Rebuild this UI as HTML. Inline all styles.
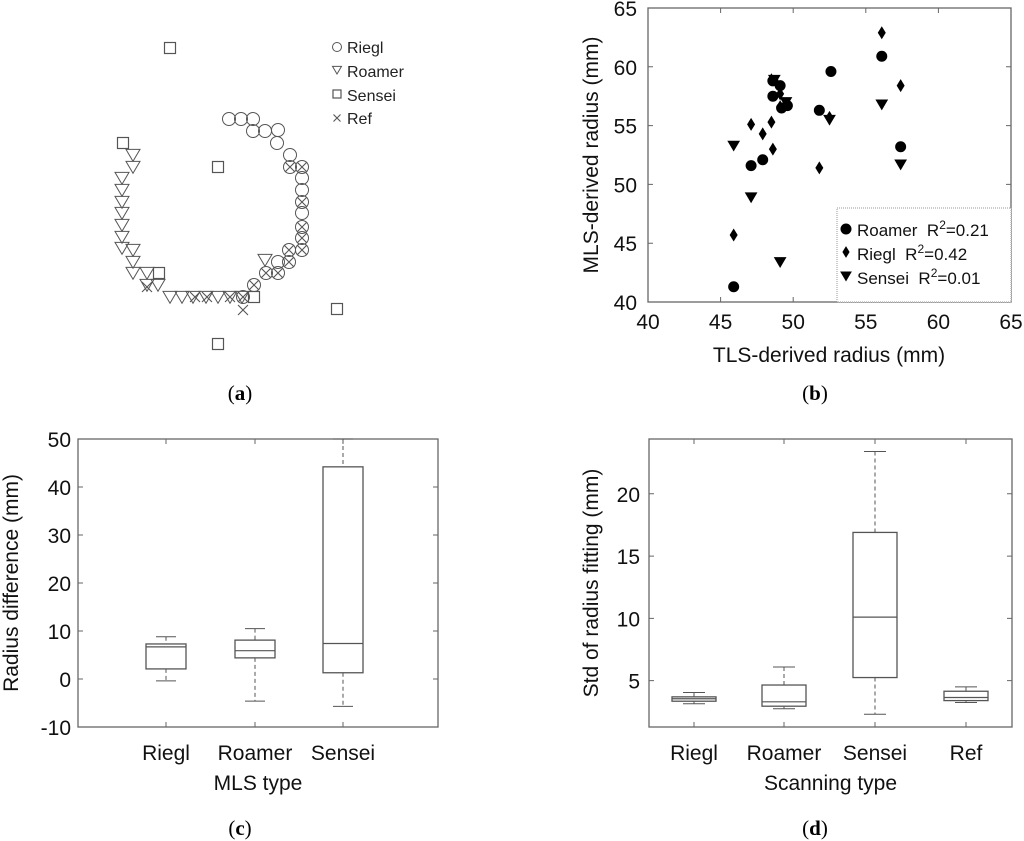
<!DOCTYPE html>
<html><head><meta charset="utf-8"><style>
body{margin:0;background:#fff}
svg{display:block;font-family:"Liberation Sans",Arial,sans-serif}
</style></head><body>
<svg id="s" width="1024" height="841" viewBox="0 0 1024 841" xmlns="http://www.w3.org/2000/svg">
<g id="pa"></g>
<g id="pb"></g>
<g id="pc"></g>
<g id="pd"></g>
<g font-family="Liberation Serif,serif" font-size="21" text-anchor="middle">
<text x="240" y="400">(<tspan font-weight="bold">a</tspan>)</text>
<text x="815" y="400">(<tspan font-weight="bold">b</tspan>)</text>
<text x="240" y="835">(<tspan font-weight="bold">c</tspan>)</text>
<text x="815" y="835">(<tspan font-weight="bold">d</tspan>)</text>
</g>
</svg>
<script>
// ---- Panel a data (schematic point positions) ----
const aRieglX=[229,241,253,253,265,278,277,290,290,302,302,302,302,302,302,302,302,289,289,278,278,266,254,243];
const aRieglY=[119,119,119,131,131,130,143,155,167,167,178,190,202,213,227,238,250,250,262,262,273,273,285,297];
const aRoamX=[133,133,122,122,122,122,122,122,122,133,133,133,147,147,158,170,182,193,206,218,230,242,265];
const aRoamY=[155,167,178,190,202,213,225,237,248,250,262,273,273,285,285,297,297,297,297,297,297,297,260];
const aSensX=[170,123,218,159,254,337,218];
const aSensY=[48,143,167,273,297,309,344];
const aRefX=[290,302,302,302,302,302,289,289,278,266,254,243,243,230,207,195,147];
const aRefY=[167,167,202,227,238,250,250,262,273,273,285,297,310,297,297,297,287];

// ---- Panel b data ----
const bRoamerX=[45.9,47.1,47.9,48.6,48.6,49.1,49.2,49.6,51.8,52.6,56.1,57.4];
const bRoamerY=[41.3,51.6,52.1,57.5,58.8,58.4,56.5,56.7,56.3,59.6,60.9,53.2];
const bRieglX=[45.9,47.1,47.9,48.5,48.6,48.5,49.1,49.1,51.8,52.5,56.1,57.4];
const bRieglY=[45.7,55.1,54.3,55.3,53.0,58.9,57.7,56.6,51.4,55.7,62.9,58.4];
const bSenseiX=[45.9,47.1,49.1,48.7,49.5,52.5,56.1,57.4];
const bSenseiY=[53.3,48.9,43.4,58.9,57.0,55.5,56.8,51.7];
const bTicks=[40,45,50,55,60,65];

// ---- Panel c data ----
const cCats=["Riegl","Roamer","Sensei"];
const cLow=[-0.4,-4.6,-5.7];
const cQ1=[2.1,4.4,1.3];
const cMed=[6.7,5.9,7.4];
const cQ3=[7.3,8.1,44.2];
const cHigh=[8.8,10.5,50];
const cTicks=[-10,0,10,20,30,40,50];

// ---- Panel d data ----
const dCats=["Riegl","Roamer","Sensei","Ref"];
const dLow=[3.15,2.75,2.3,3.25];
const dQ1=[3.35,2.95,5.25,3.4];
const dMed=[3.55,3.3,10.1,3.65];
const dQ3=[3.7,4.65,16.9,4.15];
const dHigh=[4.05,6.1,23.4,4.5];
const dTicks=[5,10,15,20];

const NS="http://www.w3.org/2000/svg";
function mk(parent,tag,attrs){const e=document.createElementNS(NS,tag);for(const k in attrs)e.setAttribute(k,attrs[k]);parent.appendChild(e);return e;}

function circ(g,x,y,r,fill,name){const e=mk(g,'circle',{cx:x,cy:y,r:r,fill:fill,stroke:fill==='none'?'#555':fill,'stroke-width':1});

}
function tri(g,x,y,s,fill,name){const e=mk(g,'polygon',{points:`${x-s},${y-s*0.8} ${x+s},${y-s*0.8} ${x},${y+s*0.9}`,fill:fill,stroke:fill==='none'?'#555':fill,'stroke-width':1});

}
function sq(g,x,y,s,name){const e=mk(g,'rect',{x:x-s,y:y-s,width:2*s,height:2*s,fill:'none',stroke:'#555','stroke-width':1.2});

}
function cross(g,x,y,s,name){const e=mk(g,'path',{d:`M${x-s},${y-s}L${x+s},${y+s}M${x-s},${y+s}L${x+s},${y-s}`,stroke:'#555','stroke-width':1.1,fill:'none'});

}
function diam(g,x,y,s,name){const e=mk(g,'polygon',{points:`${x},${y-s*1.3} ${x+s*0.8},${y} ${x},${y+s*1.3} ${x-s*0.8},${y}`,fill:'#000'});

}
function txt(g,x,y,s,attrs,name){const e=mk(g,'text',Object.assign({x:x,y:y},attrs));e.textContent=s;

return e;}

// Panel a
const pa=document.getElementById('pa');
aRieglX.forEach((x,i)=>circ(pa,x,aRieglY[i],6.5,'none','riegl-point'));
aRoamX.forEach((x,i)=>tri(pa,x,aRoamY[i],7,'none','roamer-point'));
aSensX.forEach((x,i)=>sq(pa,x,aSensY[i],5.5,'sensei-point'));
aRefX.forEach((x,i)=>cross(pa,x,aRefY[i],5,'ref-point'));
circ(pa,337,47,4.5,'none','legend-riegl-marker');
tri(pa,337,70,4.5,'none','legend-roamer-marker');
sq(pa,337,94,4,'legend-sensei-marker');
cross(pa,337,118,3.5,'legend-ref-marker');
[['Riegl',47],['Roamer',71],['Sensei',95],['Ref',118]].forEach(([t,y])=>txt(pa,347,y+6,t,{'font-size':16,fill:'#222'},'legend-entry'));

function frame(g,L,R,T,B,name){const e=mk(g,'rect',{x:L,y:T,width:R-L,height:B-T,fill:'none',stroke:'#666','stroke-width':1.3});

}

// Panel b
const pb=document.getElementById('pb');
const bL=648,bR=1011,bT=8,bB=302;
const bx=v=>bL+(v-40)/25*(bR-bL), by=v=>bB-(v-40)/25*(bB-bT);
frame(pb,bL,bR,bT,bB,'plot-area-b');
bTicks.forEach(t=>{
  mk(pb,'path',{d:`M${bx(t)},${bB}v-5M${bx(t)},${bT}v5M${bL},${by(t)}h5M${bR},${by(t)}h-5`,stroke:'#666'});
  txt(pb,bx(t),329,t,{'font-size':21,'text-anchor':'middle',fill:'#111'},'x-tick-label');
  txt(pb,637,by(t)+8,t,{'font-size':21,'text-anchor':'end',fill:'#111'},'y-tick-label');
});
txt(pb,829,362,'TLS-derived radius (mm)',{'font-size':21,'text-anchor':'middle',fill:'#111'},'x-axis-title');
txt(pb,0,0,'MLS-derived radius (mm)',{'font-size':21,'text-anchor':'middle',fill:'#111',transform:'translate(598,155) rotate(-90)'},'y-axis-title');
bRieglX.forEach((x,i)=>diam(pb,bx(x),by(bRieglY[i]),5,'riegl-point'));
bSenseiX.forEach((x,i)=>tri(pb,bx(x),by(bSenseiY[i]),5.5,'#000','sensei-point'));
bRoamerX.forEach((x,i)=>circ(pb,bx(x),by(bRoamerY[i]),5,'#000','roamer-point'));
const lg=mk(pb,'g',{});


mk(lg,'rect',{x:837,y:208,width:174,height:94,fill:'#fff',stroke:'#999','stroke-dasharray':'1,1'});
circ(lg,846,229,5,'#000','legend-roamer-marker');
diam(lg,846,252,4.5,'legend-riegl-marker');
tri(lg,846,276,5,'#000','legend-sensei-marker');
const lt=[['Roamer\u00a0\u00a0R','=0.21',236],['Riegl\u00a0\u00a0R','=0.42',260],['Sensei\u00a0\u00a0R','=0.01',284]];
lt.forEach(([a,b,y])=>{const t=txt(lg,857,y,'',{'font-size':17,fill:'#111'},'legend-entry');
 t.innerHTML=`${a}<tspan dy="-7" font-size="12">2</tspan><tspan dy="7">${b}</tspan>`;});

// Boxplot helper
function boxplot(g,L,R,T,B,ymin,ymax,cats,centers,hw,low,q1,med,q3,high,ticks,tickX,xlabY,title,titleY,ylab,ylabX,ylabY){
  const y=v=>B-(v-ymin)/(ymax-ymin)*(B-T);
  frame(g,L,R,T,B,'plot-area');
  ticks.forEach(t=>{
    mk(g,'path',{d:`M${L},${y(t)}h5M${R},${y(t)}h-5`,stroke:'#666'});
    txt(g,tickX,y(t)+8,t,{'font-size':21,'text-anchor':'end',fill:'#111'},'y-tick-label');
  });
  cats.forEach((c,i)=>{
    const cx=centers[i];
    mk(g,'path',{d:`M${cx},${B}v-5M${cx},${T}v5`,stroke:'#666'});
    txt(g,cx,xlabY,c,{'font-size':21,'text-anchor':'middle',fill:'#111'},'x-tick-label');
    const w=mk(g,'path',{d:`M${cx},${y(high[i])}V${y(q3[i])}M${cx},${y(q1[i])}V${y(low[i])}`,stroke:'#555','stroke-dasharray':'4,3',fill:'none'});
    
    
    const cap=mk(g,'path',{d:`M${cx-hw/2},${y(high[i])}h${hw}M${cx-hw/2},${y(low[i])}h${hw}`,stroke:'#555'});
    
    
    const b=mk(g,'rect',{x:cx-hw,y:y(q3[i]),width:2*hw,height:y(q1[i])-y(q3[i]),fill:'none',stroke:'#555','stroke-width':1.3});
    
    
    const m=mk(g,'path',{d:`M${cx-hw},${y(med[i])}h${2*hw}`,stroke:'#555','stroke-width':1.2});
    
    
  });
  txt(g,(L+R)/2,titleY,title,{'font-size':21,'text-anchor':'middle',fill:'#111'},'x-axis-title');
  txt(g,0,0,ylab,{'font-size':21,'text-anchor':'middle',fill:'#111',transform:`translate(${ylabX},${ylabY}) rotate(-90)`},'y-axis-title');
}
boxplot(document.getElementById('pc'),78,438,439,727,-10,50,cCats,[166,255,343],20,cLow,cQ1,cMed,cQ3,cHigh,cTicks,71,760,'MLS type',790,'Radius difference (mm)',18,583);
boxplot(document.getElementById('pd'),649,1012,439,727,1.28,24.4,dCats,[694,784,875,966],22,dLow,dQ1,dMed,dQ3,dHigh,dTicks,640,760,'Scanning type',790,'Std of radius fitting (mm)',598,583);
</script>
</body></html>
